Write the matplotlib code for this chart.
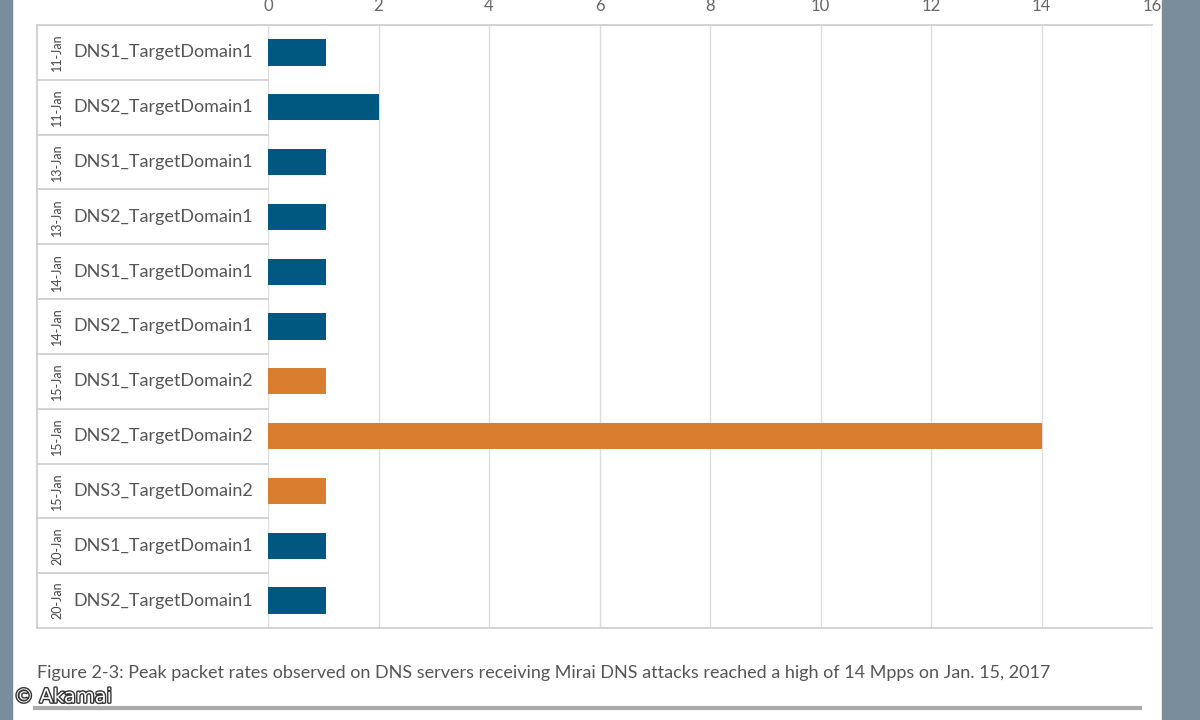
import matplotlib
matplotlib.use('Agg')
import matplotlib.pyplot as plt
from matplotlib.patches import Rectangle
import matplotlib.patheffects as pe

plt.rcParams['font.family'] = ['Lato', 'DejaVu Sans']

dates = ['11-Jan', '11-Jan', '13-Jan', '13-Jan', '14-Jan', '14-Jan',
         '15-Jan', '15-Jan', '15-Jan', '20-Jan', '20-Jan']
servers = ['DNS1_TargetDomain1', 'DNS2_TargetDomain1', 'DNS1_TargetDomain1',
           'DNS2_TargetDomain1', 'DNS1_TargetDomain1', 'DNS2_TargetDomain1',
           'DNS1_TargetDomain2', 'DNS2_TargetDomain2', 'DNS3_TargetDomain2',
           'DNS1_TargetDomain1', 'DNS2_TargetDomain1']
peak_mpps = [1.05, 2.0, 1.05, 1.05, 1.05, 1.05, 1.05, 14.0, 1.05, 1.05, 1.05]
domain = [1, 1, 1, 1, 1, 1, 2, 2, 2, 1, 1]
xticks = [0, 2, 4, 6, 8, 10, 12, 14, 16]

blue = '#00577f'
orange = '#d97d2e'
grid_c = '#dcdcdc'
text_c = '#555555'
band_c = '#7a8d9c'

W, H = 1200, 720
fig = plt.figure(figsize=(12, 7.2), dpi=100)
fig.patch.set_facecolor('white')

# blue-grey page borders
fig.patches.append(Rectangle((0, 0), 12 / W, 1, transform=fig.transFigure, color=band_c, zorder=0))
fig.patches.append(Rectangle((1162 / W, 0), 38 / W, 1, transform=fig.transFigure, color=band_c, zorder=0))

x0, x1, ytop, ybot = 268, 1152, 25, 628
ax = fig.add_axes([x0 / W, (H - ybot) / H, (x1 - x0) / W, (ybot - ytop) / H])

n = len(servers)
ypos = list(range(n))
colors = [blue if d == 1 else orange for d in domain]
ax.barh(ypos, peak_mpps, height=0.48, color=colors, zorder=3)

ax.set_xlim(0, 16)
ax.set_ylim(n - 0.5, -0.5)
ax.set_xticks(xticks)
ax.xaxis.tick_top()
ax.tick_params(axis='x', length=0, pad=8, labelsize=12, labelcolor='#666666')
ax.set_yticks([])
ax.grid(axis='x', color=grid_c, linewidth=1, zorder=0)
for s in ax.spines.values():
    s.set_visible(False)

# label box on the left
left = (37 - x0) / (x1 - x0)
tr = ax.get_yaxis_transform()
line_kw = dict(color='#cccccc', linewidth=1.2, clip_on=False, transform=tr)
ax.plot([left, 1], [-0.5, -0.5], **line_kw)
ax.plot([left, 1], [n - 0.5, n - 0.5], **line_kw)
ax.plot([left, left], [-0.5, n - 0.5], **line_kw)
for i in range(n - 1):
    ax.plot([left, 0], [i + 0.5, i + 0.5], **line_kw)

date_x = (57 - x0) / (x1 - x0)
name_x = (73 - x0) / (x1 - x0)
for i in range(n):
    ax.text(date_x, i, dates[i], transform=tr, rotation=90, ha='center', va='center',
            fontsize=9, color='#444444')
    ax.text(name_x, i, servers[i], transform=tr, ha='left', va='center',
            fontsize=13, color=text_c)

fig.text(37 / W, 1 - 673 / H,
         'Figure 2-3: Peak packet rates observed on DNS servers receiving Mirai DNS attacks '
         'reached a high of 14 Mpps on Jan. 15, 2017',
         ha='left', va='center', fontsize=13, color=text_c)

# bottom rule
fig.add_artist(plt.Line2D([35 / W, 1140 / W], [1 - 708 / H, 1 - 708 / H],
                          transform=fig.transFigure, color='#aaaaaa', linewidth=3))

fig.text(14 / W, 1 - 697 / H, '© Akamai', ha='left', va='center', fontsize=14,
         color='white', family=['DejaVu Sans'],
         path_effects=[pe.withStroke(linewidth=2, foreground='#333333')])

fig.savefig('out.png', dpi=100)
